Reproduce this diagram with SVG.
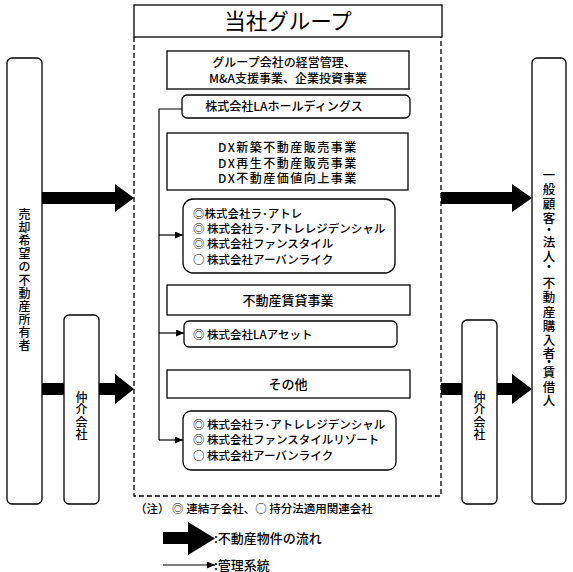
<svg xmlns="http://www.w3.org/2000/svg" width="573" height="572" viewBox="0 0 573 572">
<style>
text{font-family:"Noto Sans CJK JP","Liberation Sans",sans-serif;fill:#000;font-weight:500;}
.t115{font-size:11.5px;}
.t12{font-size:12px;}
.t13{font-size:13px;}
.c{text-anchor:middle;}
.dx{font-size:12px;letter-spacing:1.5px;}
.box{fill:#fff;stroke:#000;stroke-width:1.3;}
.dash{fill:none;stroke:#000;stroke-width:1.3;stroke-dasharray:5 3;}
.thin{fill:none;stroke:#000;stroke-width:1.2;}
.big{fill:#000;stroke:none;}
</style>
<defs>
<marker id="ah" markerWidth="8" markerHeight="7" refX="8" refY="3.5" orient="auto" markerUnits="userSpaceOnUse">
<path d="M0,0 L8,3.5 L0,7 z" fill="#000"/>
</marker>
</defs>
<rect width="573" height="572" fill="#fff"/>

<g id="connectors">
<path class="big" d="M42,192 H115 V184 L134,198 L115,212 V204 H42 z"/>
<path class="big" d="M42,383 H115 V374 L134,389 L115,404 V395 H42 z"/>
<path class="big" d="M441,192 H512 V184 L532,198 L512,212 V204 H441 z"/>
<path class="big" d="M441,383 H512 V374 L532,389 L512,404 V395 H441 z"/>
<path class="thin" d="M182,109 H159 V440"/>
<line class="thin" x1="159" y1="235" x2="183" y2="235" marker-end="url(#ah)"/>
<line class="thin" x1="159" y1="333" x2="184" y2="333" marker-end="url(#ah)"/>
<line class="thin" x1="159" y1="440" x2="183" y2="440" marker-end="url(#ah)"/>
</g>

<g id="group-frame">
<path class="dash" d="M134,37 V496 H441 V37"/>
</g>

<g id="title">
<rect class="box" x="134" y="5" width="308" height="32"/>
<text x="288" y="29" class="c" style="font-size:21.5px;font-weight:400">当社グループ</text>
</g>

<g id="mgmt">
<rect class="box" x="167" y="51" width="242" height="38"/>
<text x="284" y="67" class="c t12">グループ会社の経営管理、</text>
<text x="288" y="83" class="c t12">M&amp;A支援事業、企業投資事業</text>
</g>

<g id="la-holdings">
<rect class="box" x="182" y="95" width="228" height="23" rx="5"/>
<text x="284" y="111" class="c t12">株式会社LAホールディングス</text>
</g>

<g id="dx">
<rect class="box" x="167" y="133" width="241" height="57"/>
<text x="288" y="152" class="c dx">DX新築不動産販売事業</text>
<text x="288" y="167.5" class="c dx">DX再生不動産販売事業</text>
<text x="288" y="183" class="c dx">DX不動産価値向上事業</text>
</g>

<g id="dx-companies">
<rect class="box" x="183" y="199" width="212" height="74" rx="10"/>
<text x="193" y="217.5" class="t115">◎株式会社ラ･アトレ</text>
<text x="193" y="233" class="t115">◎ 株式会社ラ･アトレレジデンシャル</text>
<text x="193" y="248" class="t115">◎ 株式会社ファンスタイル</text>
<text x="193" y="263.5" class="t115">○ 株式会社アーバンライク</text>
</g>

<g id="rental">
<rect class="box" x="167" y="285" width="243" height="30"/>
<text x="288" y="304.5" class="c t13">不動産賃貸事業</text>
</g>

<g id="la-asset">
<rect class="box" x="184" y="321" width="213" height="26" rx="5"/>
<text x="193" y="338.5" class="t115">◎ 株式会社LAアセット</text>
</g>

<g id="other">
<rect class="box" x="167" y="370" width="243" height="28"/>
<text x="288" y="388.5" class="c t13">その他</text>
</g>

<g id="other-companies">
<rect class="box" x="183" y="411" width="213" height="59" rx="8"/>
<text x="193" y="428.5" class="t115">◎ 株式会社ラ･アトレレジデンシャル</text>
<text x="193" y="444" class="t115">◎ 株式会社ファンスタイルリゾート</text>
<text x="193" y="459.5" class="t115">○ 株式会社アーバンライク</text>
</g>

<g id="seller">
<rect class="box" x="7" y="58" width="35" height="446" rx="5"/>
<text class="c t12" x="24.5 24.5 24.5 24.5 24.5 24.5 24.5 24.5 24.5 24.5 24.5" y="219 232.1 245.2 258.3 271.4 284.5 297.6 310.7 323.8 336.9 350">売却希望の不動産所有者</text>
</g>

<g id="broker-left">
<rect class="box" x="64" y="315" width="35" height="189" rx="5"/>
<text class="c t12" x="81.5 81.5 81.5 81.5" y="401.6 414.1 426.6 439.1">仲介会社</text>
</g>

<g id="broker-right">
<rect class="box" x="462" y="320" width="35" height="184" rx="5"/>
<text class="c t12" x="479.5 479.5 479.5 479.5" y="401.6 414.1 426.6 439.1">仲介会社</text>
</g>

<g id="buyers">
<rect class="box" x="532" y="58" width="34" height="446" rx="5"/>
<text class="c" style="font-size:12.5px" x="549 549 549 549 549 549 549 549 549 549 549 549 549 549 549 549 549 549 549" y="179.7 193.7 208.7 222.7 234.7 246.7 260.7 271.7 279.7 287.7 301.7 316.7 330.7 344.7 357.7 366.7 376.7 391.7 404.7">一般顧客・法人・ 不動産購入者・賃借人</text>
</g>

<g id="note">
<text x="135" y="513" style="font-size:11.5px">（注） ◎ 連結子会社、○ 持分法適用関連会社</text>
</g>

<g id="legend">
<path class="big" d="M163,532 H188 V522 L215,538.5 L188,555 V544 H163 z"/>
<text x="214" y="543" class="t13">:不動産物件の流れ</text>
<line class="thin" x1="163" y1="565" x2="215" y2="565" marker-end="url(#ah)"/>
<text x="214" y="569.5" class="t13">:管理系統</text>
</g>
</svg>
